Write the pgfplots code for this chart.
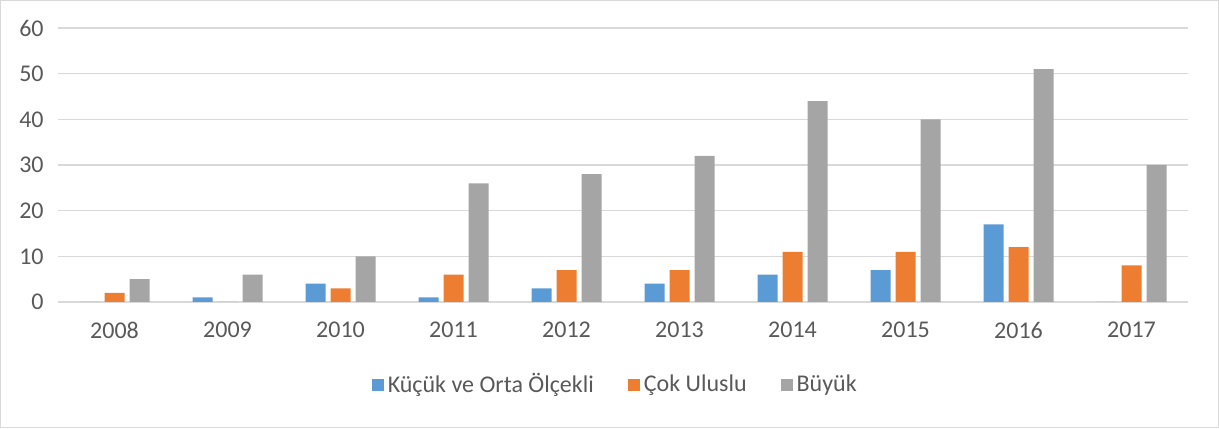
\documentclass[border=0pt]{standalone}
\usepackage{fontspec}
\setmainfont{Carlito}
\usepackage{pgfplots}
\pgfplotsset{compat=1.18}
\definecolor{cblue}{HTML}{5B9BD5}
\definecolor{corange}{HTML}{ED7D31}
\definecolor{cgray}{HTML}{A5A5A5}
\definecolor{ctext}{HTML}{595959}
\definecolor{cgrid}{HTML}{D9D9D9}
\begin{document}
\fontsize{12}{14}\selectfont
\begin{tikzpicture}
\draw[cgrid, line width=0.5pt] (0.25pt,0.25pt) rectangle (609.25pt,213.75pt);
\begin{axis}[
  at={(29pt,63pt)}, anchor=south west,
  scale only axis, width=565pt, height=137pt,
  ybar, bar width=10pt,
  xmin=-0.5, xmax=9.5, ymin=0, ymax=60,
  xtick={0,...,9},
  xticklabels={2008,2009,2010,2011,2012,2013,2014,2015,2016,2017},
  ytick={0,10,...,60},
  axis line style={draw=none},
  major tick length=0pt,
  ymajorgrids, grid style={cgrid, line width=0.6pt},
  tick label style={font=\fontsize{12}{14}\selectfont, text=ctext},
  /pgf/number format/assume math mode=true,
  yticklabel style={xshift=-3pt},
  xticklabel style={yshift=-6pt},
  legend style={at={(0.494,-0.303)}, anchor=center, draw=none, fill=none,
    legend columns=3, font=\fontsize{12}{14}\selectfont, text=ctext,
    /tikz/every even column/.append style={column sep=15pt},
    legend cell align=left},
  legend image code/.code={\fill[#1] (0pt,-3pt) rectangle (6pt,3pt);},
]
\addplot[fill=cblue, draw=none, bar shift=-12.5pt] coordinates {(0,0) (1,1) (2,4) (3,1) (4,3) (5,4) (6,6) (7,7) (8,17) (9,0)};
\addplot[fill=corange, draw=none, bar shift=0pt] coordinates {(0,2) (1,0) (2,3) (3,6) (4,7) (5,7) (6,11) (7,11) (8,12) (9,8)};
\addplot[fill=cgray, draw=none, bar shift=12.5pt] coordinates {(0,5) (1,6) (2,10) (3,26) (4,28) (5,32) (6,44) (7,40) (8,51) (9,30)};
\legend{Küçük ve Orta Ölçekli, Çok Uluslu, Büyük}
\end{axis}
\end{tikzpicture}
\end{document}
